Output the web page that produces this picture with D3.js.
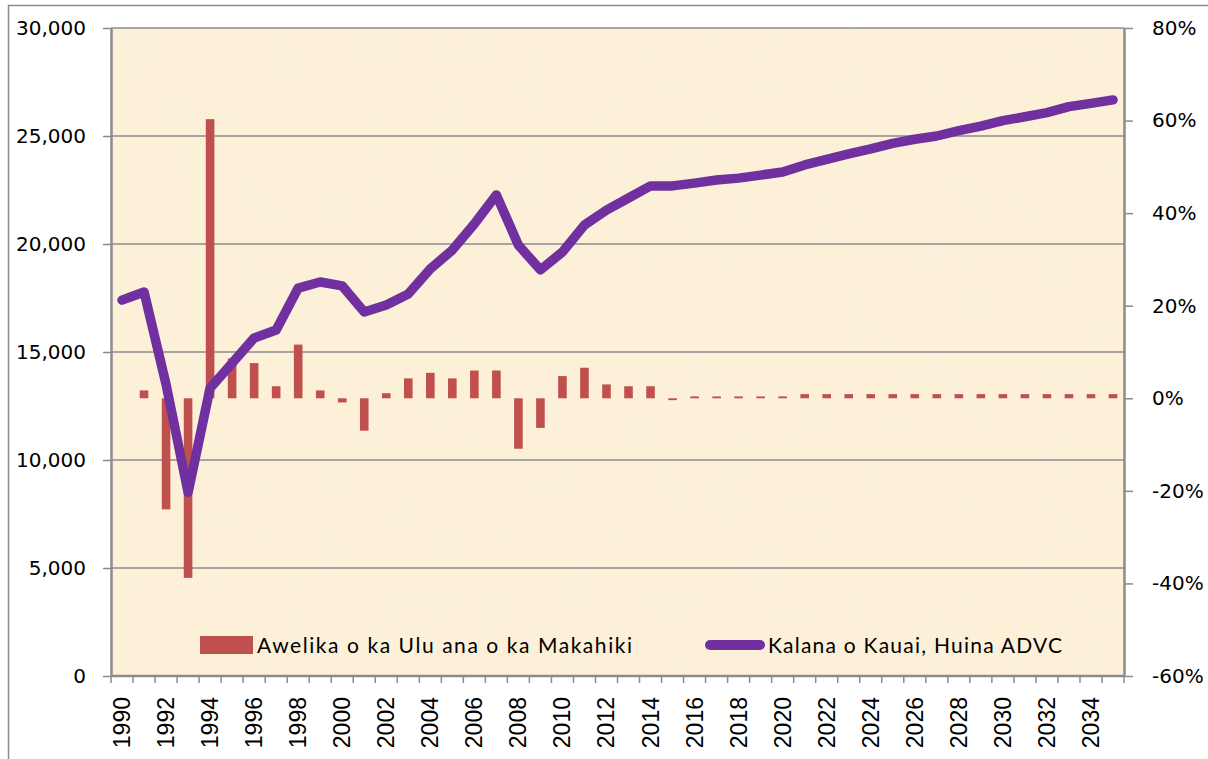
<!DOCTYPE html>
<html>
<head>
<meta charset="utf-8">
<title>Kauai</title>
<script src="https://d3js.org/d3.v7.min.js"></script>
<style>
    body { margin: 0; background: #fff; }
    .axis text { fill: #000; }
</style>
</head>
<body>
<svg id="chart"></svg>
<script>
// data
const years = d3.range(1990, 2036);
const visitors = [17400, 17780, 13500, 8500, 13330, 14490, 15650, 16020, 17960, 18240,
    18060, 16850, 17180, 17690, 18850, 19720, 20930, 22270, 19950, 18800,
    19630, 20880, 21570, 22130, 22690, 22690, 22820, 22960, 23050, 23190,
    23330, 23660, 23920, 24170, 24400, 24660, 24850, 25000, 25250, 25460,
    25710, 25890, 26080, 26360, 26510, 26670];
const growth = [null, 1.7, -24.0, -38.8, 60.3, 8.6, 7.6, 2.6, 11.6, 1.7,
    -0.9, -7.0, 1.1, 4.3, 5.5, 4.3, 6.0, 6.0, -10.9, -6.4,
    4.8, 6.6, 3.0, 2.6, 2.6, -0.4, 0.4, 0.4, 0.4, 0.4,
    0.4, 0.9, 0.9, 0.9, 0.9, 0.9, 0.9, 0.9, 0.9, 0.9,
    0.9, 0.9, 0.9, 0.9, 0.9, 0.9];
const leftTicks = [0, 5000, 10000, 15000, 20000, 25000, 30000];
const rightTicks = [-60, -40, -20, 0, 20, 40, 60, 80];
const barLabel = "Awelika o ka Ulu ana o ka Makahiki";
const lineLabel = "Kalana o Kauai, Huina ADVC";

var W = 1208, H = 759;
var margin = { top: 28, right: 84, bottom: 83, left: 111 },
    width = W - margin.left - margin.right,
    height = H - margin.top - margin.bottom;

var svg = d3.select("#chart").attr("width", W).attr("height", H);

// outer frame
svg.append("rect")
    .attr("x", 8.5).attr("y", 5.5)
    .attr("width", W + 10).attr("height", H + 10)
    .attr("fill", "#fff").attr("stroke", "#8c8c8c").attr("stroke-width", 1.5);

// parchment texture
var defs = svg.append("defs");
var f = defs.append("filter").attr("id", "paper").attr("x", 0).attr("y", 0).attr("width", 1).attr("height", 1);
f.append("feTurbulence").attr("type", "fractalNoise").attr("baseFrequency", 0.025).attr("numOctaves", 3).attr("seed", 4);
f.append("feColorMatrix").attr("type", "matrix")
    .attr("values", "0 0 0 0 0.96  0 0 0 0 0.88  0 0 0 0 0.70  0 0 0 -1.6 0.9");
f.append("feComposite").attr("in2", "SourceGraphic").attr("operator", "in");

var g = svg.append("g").attr("transform", "translate(" + margin.left + "," + margin.top + ")");

g.append("rect").attr("width", width).attr("height", height).attr("fill", "#fcf0d9");
g.append("rect").attr("width", width).attr("height", height).attr("fill", "#fcf0d9")
    .attr("filter", "url(#paper)").attr("opacity", 0.35);

var x = d3.scaleBand().domain(years).range([0, width]).paddingInner(0).paddingOuter(0);
var y = d3.scaleLinear().domain([0, 30000]).range([height, 0]);
var y2 = d3.scaleLinear().domain([-60, 80]).range([height, 0]);

// grid lines
g.append("g").selectAll("line").data(leftTicks).join("line")
    .attr("x1", 0).attr("x2", width)
    .attr("y1", d => y(d)).attr("y2", d => y(d))
    .attr("stroke", "#8c8c8c").attr("stroke-width", 1.5);

// bars
var bw = 8.6;
g.append("g").selectAll("rect")
    .data(years.map((yr, i) => ({ yr: yr, v: growth[i] })).filter(d => d.v !== null))
    .join("rect")
    .attr("x", d => x(d.yr) + x.bandwidth() / 2 - bw / 2)
    .attr("width", bw)
    .attr("y", d => y2(Math.max(0, d.v)))
    .attr("height", d => Math.abs(y2(d.v) - y2(0)))
    .attr("fill", "#c0504d");

// line
var line = d3.line()
    .x((d, i) => x(years[i]) + x.bandwidth() / 2)
    .y(d => y(d));
g.append("path").datum(visitors)
    .attr("d", line)
    .attr("fill", "none")
    .attr("stroke", "#7030a0")
    .attr("stroke-width", 9.5)
    .attr("stroke-linejoin", "round")
    .attr("stroke-linecap", "round");

// axes
function styleAxis(sel) {
    sel.selectAll("path").attr("stroke", "#8c8c8c").attr("stroke-width", 2.5);
    sel.selectAll("line").attr("stroke", "#8c8c8c").attr("stroke-width", 1.5);
}

var yAxis = g.append("g").attr("class", "axis")
    .call(d3.axisLeft(y).tickValues(leftTicks).tickFormat(d3.format(",")).tickSize(8).tickPadding(17).tickSizeOuter(0));
yAxis.call(styleAxis);
yAxis.selectAll("text").style("font-family", "DejaVu Sans").style("font-size", "20px");

var y2Axis = g.append("g").attr("class", "axis")
    .attr("transform", "translate(" + width + ",0)")
    .call(d3.axisRight(y2).tickValues(rightTicks).tickFormat(d => d + "%").tickSize(9).tickPadding(19).tickSizeOuter(0));
y2Axis.call(styleAxis);
y2Axis.selectAll("text").style("font-family", "DejaVu Sans").style("font-size", "20px");

// bottom axis: ticks on band edges, labels every other year
var xb = g.append("g").attr("class", "axis").attr("transform", "translate(0," + height + ")");
xb.append("line").attr("x1", 0).attr("x2", width).attr("stroke", "#8c8c8c").attr("stroke-width", 2.5);
xb.selectAll(".tk").data(years.concat([2036])).join("line").attr("class", "tk")
    .attr("x1", d => d === 2036 ? width : x(d)).attr("x2", d => d === 2036 ? width : x(d))
    .attr("y1", 0).attr("y2", 7)
    .attr("stroke", "#8c8c8c").attr("stroke-width", 1.5);
xb.selectAll("text").data(years.filter(d => d % 2 === 0)).join("text")
    .attr("transform", d => "translate(" + (x(d) + x.bandwidth() / 2 + 8) + ",21) rotate(-90)")
    .attr("text-anchor", "end")
    .style("font-family", "Liberation Sans")
    .style("font-size", "23px")
    .text(d => d);

// legend
var lg = svg.append("g");
lg.append("rect").attr("x", 200).attr("y", 636).attr("width", 53).attr("height", 18).attr("fill", "#c0504d");
lg.append("text").attr("x", 257).attr("y", 653)
    .style("font-family", "Lato").style("font-size", "21px")
    .attr("textLength", 375)
    .text(barLabel);
lg.append("line").attr("x1", 710).attr("x2", 760).attr("y1", 645).attr("y2", 645)
    .attr("stroke", "#7030a0").attr("stroke-width", 10).attr("stroke-linecap", "round");
lg.append("text").attr("x", 768).attr("y", 653)
    .style("font-family", "Lato").style("font-size", "21px")
    .attr("textLength", 294)
    .text(lineLabel);
</script>
</body>
</html>
